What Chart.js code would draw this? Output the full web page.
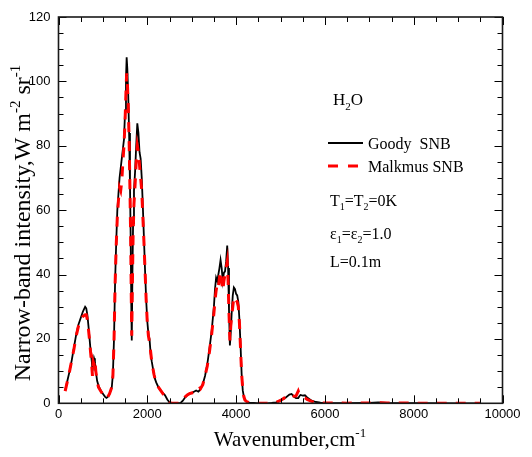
<!DOCTYPE html>
<html>
<head>
<meta charset="utf-8">
<script src="https://cdn.jsdelivr.net/npm/chart.js@4.4.1/dist/chart.umd.min.js"></script>
<style>
  html, body { margin: 0; padding: 0; background: #fff; }
  #wrap { width: 532px; height: 457px; }
</style>
</head>
<body>
<div id="wrap"><canvas id="c" width="532" height="457"></canvas></div>
<script>
// Spectral grid (cm^-1)
const wavenumber = [
  150, 200, 250, 300, 350, 400, 450, 500, 550, 600, 625, 650, 675, 700, 725, 750, 765, 780, 800, 820,
  840, 870, 900, 950, 1000, 1050, 1080, 1110, 1150, 1175, 1200, 1225, 1250, 1275, 1300, 1325, 1350, 1375, 1400, 1425,
  1450, 1475, 1500, 1520, 1535, 1550, 1570, 1590, 1610, 1625, 1640, 1650, 1665, 1680, 1700, 1725, 1750, 1775, 1800, 1825,
  1850, 1875, 1900, 1925, 1950, 1975, 2000, 2025, 2050, 2075, 2100, 2125, 2150, 2175, 2200, 2250, 2300, 2350, 2400, 2450,
  2500, 2550, 2650, 2750, 2800, 2850, 2900, 2950, 3000, 3050, 3100, 3150, 3175, 3200, 3250, 3300, 3350, 3400, 3450, 3500,
  3525, 3550, 3575, 3600, 3625, 3650, 3675, 3700, 3725, 3750, 3775, 3800, 3820, 3840, 3860, 3880, 3900, 3925, 3950, 3975,
  4000, 4025, 4050, 4075, 4100, 4125, 4150, 4175, 4200, 4250, 4300, 4400, 4500, 4700, 4800, 4900, 5000, 5100, 5200, 5250,
  5300, 5350, 5400, 5425, 5450, 5500, 5550, 5600, 5700, 5800, 5900, 6000, 6500, 7000, 7200, 7400, 8000, 9000, 9500
];

// Narrow-band intensity, Goody statistical narrow-band model (W m^-2 sr^-1)
const goodySNB = [
  4, 7, 10, 13.5, 17.5, 21.5, 24.5, 26.5, 28.5, 30, 29.5, 27.5, 24, 20, 16, 13, 10, 12, 14, 13,
  10, 7, 5.5, 4, 3, 2, 1.7, 2, 3, 4, 5, 9, 20, 38, 50, 60, 65, 70, 73, 76,
  79, 82, 91, 101, 107.5, 104, 96, 84, 68, 52, 30, 19.5, 40, 56, 66, 72, 80, 87, 84, 78,
  76, 70, 61, 51, 41, 32, 25.5, 21.5, 20, 15.5, 13, 11, 9, 7.5, 6.5, 5, 4, 3.2, 2.5, 1.2,
  0.3, 0, 0, 0.1, 0.8, 1.8, 2.5, 3, 3.2, 3.6, 4, 3.6, 4, 4.5, 6, 8.5, 12, 17, 22.5, 30,
  35.5, 39, 38, 40, 42, 44.5, 42, 38, 40.5, 41, 44, 49, 42, 29, 18, 22, 28, 33.5, 36, 35.5,
  34, 33.5, 31.5, 26, 18, 9, 4, 2, 1, 0.4, 0.2, 0.1, 0, 0, 0.1, 0.3, 0.8, 1.6, 2.7, 2.9,
  2.1, 1.6, 1.6, 2.2, 2.6, 2.4, 2.5, 1.8, 0.8, 0.4, 0.2, 0.1, 0.05, 0.15, 0.25, 0.15, 0.05, 0, 0
];

// Narrow-band intensity, Malkmus statistical narrow-band model (W m^-2 sr^-1)
const malkmusSNB = [
  3.8, 6.8, 10, 13.5, 17, 21, 24, 25.5, 27, 27.5, 27.5, 26, 23, 19.5, 15.5, 11.5, 8.5, 13, 12, 13.5,
  10, 7, 5, 3.8, 2.8, 1.8, 1.5, 2, 3, 4, 5, 8.5, 19, 37, 49, 58, 63, 67, 66, 69,
  75, 80, 88, 97, 102.5, 100, 93, 82, 66, 52, 32, 21, 38, 52, 62, 68, 75, 80, 78, 74,
  70, 66, 58, 50, 41, 32, 25, 21, 19, 16, 13, 11, 9, 7.5, 6.2, 5, 4, 3, 2.2, 1,
  0.2, 0, 0, 0.1, 0.9, 2, 2.6, 3, 3.2, 3.4, 3.8, 4.5, 5.2, 4.6, 5.8, 8.5, 11.5, 16, 21.5, 28,
  32, 35, 37, 36, 39, 41, 38, 35, 38, 40, 42, 44, 38, 28, 19.5, 24, 27, 30, 33, 33,
  32, 31.5, 30, 25, 17, 9, 4.5, 2, 1, 0.4, 0.2, 0.1, 0, 0, 0.1, 0.3, 0.9, 1.8, 2.9, 2.5,
  2.2, 2.3, 3.8, 2.8, 2.2, 2, 1.7, 1.2, 0.6, 0.3, 0.15, 0.1, 0.05, 0.1, 0.2, 0.1, 0.05, 0, 0
];

// Axis ranges and tick spacing
const xTicks = { min: 0, max: 10000, major: 2000, minor: 500 };
const yTicks = { min: 0, max: 120, major: 20, minor: 5 };

const SERIF = '"Liberation Serif", "Times New Roman", serif';
const SANS = '"Liberation Sans", Arial, sans-serif';

// Draws a run of text pieces; each piece may be normal, subscript or superscript.
function richText(ctx, x, y, parts, size) {
  let cx = x;
  for (const p of parts) {
    const s = p.sub || p.sup ? Math.round(size * 0.62) : size;
    const dy = p.sub ? size * 0.28 : (p.sup ? -size * 0.42 : 0);
    ctx.font = s + 'px ' + SERIF;
    ctx.fillText(p.t, cx, y + dy);
    cx += ctx.measureText(p.t).width;
  }
  return cx - x;
}
function richWidth(ctx, parts, size) {
  let w = 0;
  for (const p of parts) {
    const s = p.sub || p.sup ? Math.round(size * 0.62) : size;
    ctx.font = s + 'px ' + SERIF;
    w += ctx.measureText(p.t).width;
  }
  return w;
}

const framePlugin = {
  id: 'frame',
  beforeDraw(chart) {
    const ctx = chart.ctx;
    ctx.save();
    ctx.fillStyle = '#fff';
    ctx.fillRect(0, 0, chart.width, chart.height);
    ctx.restore();
  },
  afterDraw(chart) {
    const ctx = chart.ctx;
    const { left, right, top, bottom } = chart.chartArea;
    const xs = chart.scales.x, ys = chart.scales.y;
    ctx.save();

    // inward ticks on all four sides
    ctx.strokeStyle = '#000';
    ctx.lineWidth = 1;
    ctx.beginPath();
    for (let v = xTicks.min; v <= xTicks.max; v += xTicks.minor) {
      const px = Math.round(xs.getPixelForValue(v)) + 0.5;
      const len = v % xTicks.major === 0 ? 8 : 5;
      ctx.moveTo(px, bottom); ctx.lineTo(px, bottom - len);
      ctx.moveTo(px, top); ctx.lineTo(px, top + len);
    }
    for (let v = yTicks.min; v <= yTicks.max; v += yTicks.minor) {
      const py = Math.round(ys.getPixelForValue(v)) + 0.5;
      const len = v % yTicks.major === 0 ? 8 : 5;
      ctx.moveTo(left, py); ctx.lineTo(left + len, py);
      ctx.moveTo(right, py); ctx.lineTo(right - len, py);
    }
    ctx.stroke();

    // plot frame
    ctx.strokeStyle = '#1a1a1a';
    ctx.lineWidth = 1.6;
    ctx.strokeRect(left, top, right - left, bottom - top);

    ctx.fillStyle = '#000';
    ctx.textBaseline = 'alphabetic';
    ctx.textAlign = 'left';

    // x-axis title
    const xt = [{ t: 'Wavenumber,cm' }, { t: '-1', sup: true }];
    const xw = richWidth(ctx, xt, 21);
    richText(ctx, 290 - xw / 2, 446, xt, 21);

    // y-axis title (rotated)
    const yt = [{ t: 'Narrow-band intensity,W m' }, { t: '-2', sup: true }, { t: ' sr' }, { t: '-1', sup: true }];
    const yw = richWidth(ctx, yt, 24);
    ctx.save();
    ctx.translate(30, 223 + yw / 2);
    ctx.rotate(-Math.PI / 2);
    richText(ctx, 0, 0, yt, 24);
    ctx.restore();

    // in-plot annotations
    richText(ctx, 333, 105, [{ t: 'H' }, { t: '2', sub: true }, { t: 'O' }], 17);

    ctx.lineWidth = 2;
    ctx.strokeStyle = '#000';
    ctx.beginPath(); ctx.moveTo(328, 143); ctx.lineTo(363, 143); ctx.stroke();
    richText(ctx, 368, 149, [{ t: 'Goody  SNB' }], 16);

    ctx.lineWidth = 3;
    ctx.strokeStyle = '#ff0000';
    ctx.setLineDash([10, 10]);
    ctx.beginPath(); ctx.moveTo(328, 166); ctx.lineTo(360, 166); ctx.stroke();
    ctx.setLineDash([]);
    richText(ctx, 368, 172, [{ t: 'Malkmus SNB' }], 16);

    richText(ctx, 330, 206, [{ t: 'T' }, { t: '1', sub: true }, { t: '=T' }, { t: '2', sub: true }, { t: '=0K' }], 16);
    richText(ctx, 330, 239, [{ t: 'ε' }, { t: '1', sub: true }, { t: '=ε' }, { t: '2', sub: true }, { t: '=1.0' }], 16);
    richText(ctx, 330, 267, [{ t: 'L=0.1m' }], 16);

    ctx.restore();
  }
};

const toPoints = (xs, ys) => xs.map((x, i) => ({ x, y: ys[i] }));

new Chart(document.getElementById('c'), {
  type: 'line',
  data: {
    datasets: [
      {
        label: 'Malkmus SNB',
        data: toPoints(wavenumber, malkmusSNB),
        borderColor: '#ff0000',
        borderWidth: 3,
        borderDash: [10, 9],
        pointRadius: 0,
        tension: 0,
        fill: false,
        order: 0
      },
      {
        label: 'Goody  SNB',
        data: toPoints(wavenumber, goodySNB),
        borderColor: '#000',
        borderWidth: 1.8,
        pointRadius: 0,
        tension: 0,
        fill: false,
        order: 1
      }
    ]
  },
  options: {
    responsive: false,
    animation: false,
    devicePixelRatio: 1,
    layout: { padding: { left: 0, top: 17, right: 29.5, bottom: 0 } },
    plugins: { legend: { display: false }, tooltip: { enabled: false } },
    scales: {
      x: {
        type: 'linear',
        min: xTicks.min, max: xTicks.max,
        grid: { display: false, tickLength: 2 },
        border: { display: false },
        ticks: {
          stepSize: xTicks.major, color: '#000', font: { family: SANS, size: 13 }, padding: 1, maxRotation: 0,
          callback: (v) => String(v)
        },
        afterFit(scale) { scale.height = 53.7; }
      },
      y: {
        type: 'linear',
        min: yTicks.min, max: yTicks.max,
        grid: { display: false, tickLength: 2 },
        border: { display: false },
        ticks: {
          stepSize: yTicks.major, color: '#000', font: { family: SANS, size: 13 }, padding: 6,
          callback: (v) => String(v)
        },
        afterFit(scale) { scale.width = 58.5; }
      }
    }
  },
  plugins: [framePlugin]
});
</script>
</body>
</html>
